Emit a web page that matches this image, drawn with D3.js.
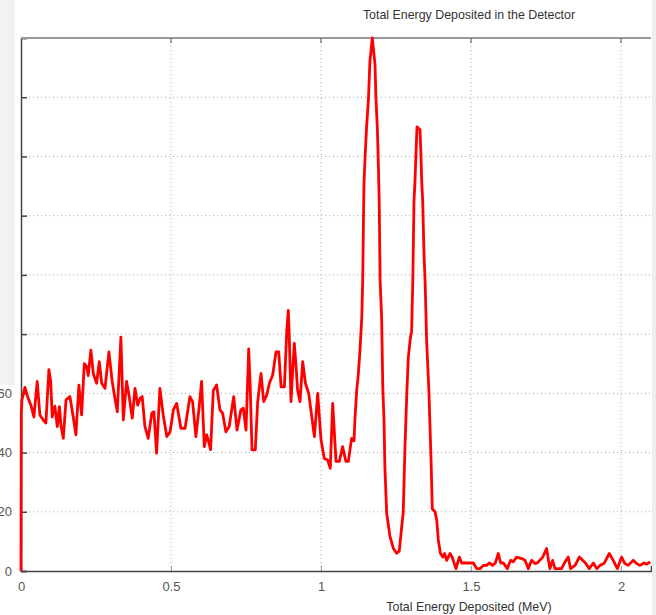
<html>
<head></head>
<body style="margin:0">
<svg id="chart" width="656" height="615"></svg>
</body>
<script src="https://d3js.org/d3.v7.min.js"></script>
<script>
    // energy (MeV) and counts
    let energy = [0, 0.001, 0.003, 0.013, 0.024, 0.033, 0.043, 0.054, 0.063, 0.074, 0.083, 0.093, 0.099, 0.104,
        0.113, 0.121, 0.128, 0.133, 0.141, 0.150, 0.163, 0.174, 0.183, 0.193, 0.202, 0.211, 0.219, 0.224, 0.233,
        0.241, 0.252, 0.261, 0.269, 0.280, 0.293, 0.304, 0.313, 0.321, 0.333, 0.341, 0.352, 0.360, 0.371, 0.380,
        0.389, 0.397, 0.404, 0.413, 0.424, 0.436, 0.443, 0.452, 0.463, 0.474, 0.486, 0.497, 0.508, 0.519, 0.533,
        0.547, 0.563, 0.572, 0.583, 0.594, 0.602, 0.611, 0.619, 0.624, 0.632, 0.641, 0.652, 0.663, 0.672, 0.683,
        0.694, 0.709, 0.720, 0.733, 0.741, 0.750, 0.759, 0.764, 0.770, 0.781, 0.789, 0.800, 0.809, 0.819, 0.828,
        0.839, 0.850, 0.859, 0.867, 0.878, 0.886, 0.891, 0.894, 0.900, 0.906, 0.911, 0.917, 0.922, 0.930, 0.939,
        0.948, 0.959, 0.967, 0.978, 0.989, 1.000, 1.011, 1.022, 1.031, 1.039, 1.050, 1.061, 1.072, 1.083, 1.091,
        1.102, 1.110, 1.113, 1.119, 1.124, 1.130, 1.136, 1.139, 1.143, 1.147, 1.152, 1.158, 1.163, 1.167, 1.171,
        1.174, 1.180, 1.183, 1.188, 1.191, 1.194, 1.197, 1.202, 1.206, 1.210, 1.213, 1.219, 1.230, 1.241, 1.252,
        1.261, 1.269, 1.274, 1.280, 1.286, 1.291, 1.297, 1.302, 1.306, 1.310, 1.313, 1.317, 1.320, 1.330, 1.333,
        1.336, 1.339, 1.343, 1.347, 1.352, 1.360, 1.362, 1.367, 1.371, 1.380, 1.386, 1.391, 1.398, 1.406, 1.412,
        1.419, 1.430, 1.437, 1.450, 1.461, 1.469, 1.508, 1.519, 1.530, 1.541, 1.552, 1.561, 1.572, 1.581, 1.591,
        1.599, 1.608, 1.621, 1.632, 1.641, 1.652, 1.669, 1.680, 1.691, 1.702, 1.713, 1.721, 1.739, 1.752, 1.763,
        1.772, 1.780, 1.802, 1.813, 1.824, 1.832, 1.847, 1.861, 1.872, 1.883, 1.894, 1.908, 1.919, 1.930, 1.943,
        1.961, 1.974, 1.988, 2.002, 2.013, 2.024, 2.041, 2.052, 2.063, 2.077, 2.086, 2.097]
    let counts = [0, 53, 57.8, 62, 58.3, 56, 52, 64, 52.7, 51, 50, 68, 64, 52,
        55.7, 48.8, 55.5, 49.3, 44.8, 57.8, 58.9, 52.1, 46, 62.8, 52.7, 70, 69, 66, 74.6,
        66.7, 63.4, 70.7, 63.4, 61.7, 74, 64, 58.3, 53.8, 79, 51, 64, 59.4, 51.6, 61.7,
        56, 58.3, 58.9, 48.8, 44.8, 53.3, 53.8, 39.8, 61.7, 52.7, 45.4, 47, 54.4, 56.6, 48.2,
        48.2, 58.9, 57.2, 45.4, 55.5, 64, 42, 46, 44.3, 41, 61, 62.8, 54.4, 53.3, 47,
        48.8, 58.9, 47.6, 54.4, 55, 47.6, 75, 62.2, 40.9, 40.9, 57.2, 66.7, 57.2, 59.4, 63.4,
        66.2, 74, 74, 62.2, 62.2, 81.3, 88, 80.2, 57.2, 68.4, 76.9, 69, 61.1, 57.2, 70.7,
        63.4, 60, 53.8, 45.4, 60, 44.3, 38, 37.5, 34.7, 56.6, 37, 37, 42, 37, 37,
        44.8, 44, 51, 61, 66, 74.5, 85.8, 98, 130, 140, 150, 159, 172, 176, 180,
        177, 171, 160, 149, 138, 125, 98, 86, 62, 51, 35, 19.5, 11.6, 7.7, 6,
        6.7, 15, 19.5, 42, 60, 72, 78, 81, 98, 125, 131, 142, 150, 149, 141,
        131, 125, 108, 98, 78, 60, 53, 37, 21, 20, 17, 10.5, 6, 4.7, 5.9,
        3.6, 5.9, 4.7, 0.8, 4.7, 2.7, 2.7, 0.8, 0.8, 1.9, 1.9, 2.7, 1.9, 2.7, 5.9,
        2.7, 2.7, 0.8, 3.6, 3.1, 4.7, 4.2, 3.6, 0.8, 3.6, 2.5, 2.7, 4.7, 7.6, 0.8,
        3.6, 0.8, 0.8, 3, 4.7, 0.8, 1.9, 4.7, 3.6, 2.5, 0.8, 2.7, 0.8, 1.9, 2.5,
        5.9, 3.6, 0.8, 4.7, 2.5, 1.9, 3.6, 2.5, 1.9, 2.7, 2.3, 3.1]
    let xTicks = [0, 0.5, 1, 1.5, 2]
    let yTicks = [0, 20, 40, 60, 80, 100, 120, 140, 160, 180]

    let svg = d3.select("#chart")
    let mLeft = 21, mRight = 651, mTop = 38, mBottom = 571

    let x = d3.scaleLinear().domain([0, 2.1]).range([mLeft, mRight])
    let y = d3.scaleLinear().domain([0, 180]).range([mBottom, mTop])

    svg.append("rect").attr("width", 656).attr("height", 615).attr("fill", "white")

    // dotted grid
    svg.append("g").selectAll("line")
        .data(yTicks.filter(d => d > 0 && d < 180))
        .enter().append("line")
        .attr("x1", mLeft).attr("x2", mRight)
        .attr("y1", d => y(d)).attr("y2", d => y(d))
        .attr("stroke", "#aaa").attr("stroke-dasharray", "1,3")
    svg.append("g").selectAll("line")
        .data(xTicks.filter(d => d > 0))
        .enter().append("line")
        .attr("x1", d => x(d)).attr("x2", d => x(d))
        .attr("y1", mTop).attr("y2", mBottom)
        .attr("stroke", "#aaa").attr("stroke-dasharray", "1,3")

    // axes
    let yAxis = d3.axisLeft(y).tickValues(yTicks).tickSize(-6).tickPadding(9)
    let gy = svg.append("g").attr("transform", `translate(${mLeft},0)`).call(yAxis)
    gy.select(".domain").attr("stroke", "#444").attr("stroke-width", 1.5)
    gy.selectAll(".tick line").attr("stroke", "#444").attr("stroke-width", 1.5)

    let xAxis = d3.axisBottom(x).tickValues(xTicks).tickSize(-5).tickPadding(11)
        .tickFormat(d3.format("~g"))
    let gx = svg.append("g").attr("transform", `translate(0,${mBottom})`).call(xAxis)
    gx.select(".domain").attr("stroke", "#444").attr("stroke-width", 1.5)
    gx.selectAll(".tick line").attr("stroke", "#999")

    svg.selectAll(".tick text")
        .attr("font-family", "Liberation Sans, Arial, sans-serif")
        .attr("font-size", 13).attr("fill", "#555")

    // top frame with inward ticks
    svg.append("line")
        .attr("x1", mLeft).attr("x2", mRight).attr("y1", mTop).attr("y2", mTop)
        .attr("stroke", "#999").attr("stroke-width", 2)
    svg.append("g").selectAll("line")
        .data(xTicks.filter(d => d > 0))
        .enter().append("line")
        .attr("x1", d => x(d)).attr("x2", d => x(d))
        .attr("y1", mTop).attr("y2", mTop + 5)
        .attr("stroke", "#555")

    // spectrum
    let line = d3.line()
        .x((d, i) => x(energy[i]))
        .y(d => y(d))
    svg.append("path")
        .datum(counts)
        .attr("d", line)
        .attr("fill", "none")
        .attr("stroke", "#ff0000")
        .attr("stroke-width", 2.8)
        .attr("stroke-linejoin", "round")

    // panels from the surrounding page
    svg.append("rect").attr("x", 0).attr("y", 0).attr("width", 15).attr("height", 385).attr("fill", "#f2f2f2")
    svg.append("rect").attr("x", 652).attr("y", 0).attr("width", 4).attr("height", 615).attr("fill", "#eeeeee")

    svg.append("text")
        .attr("x", 469).attr("y", 19)
        .attr("text-anchor", "middle")
        .attr("font-family", "Liberation Sans, Arial, sans-serif")
        .attr("font-size", 12.4).attr("fill", "#333")
        .text("Total Energy Deposited in the Detector")

    svg.append("text")
        .attr("x", 469).attr("y", 611)
        .attr("text-anchor", "middle")
        .attr("font-family", "Liberation Sans, Arial, sans-serif")
        .attr("font-size", 12.4).attr("fill", "#333")
        .text("Total Energy Deposited (MeV)")
</script>
</html>
